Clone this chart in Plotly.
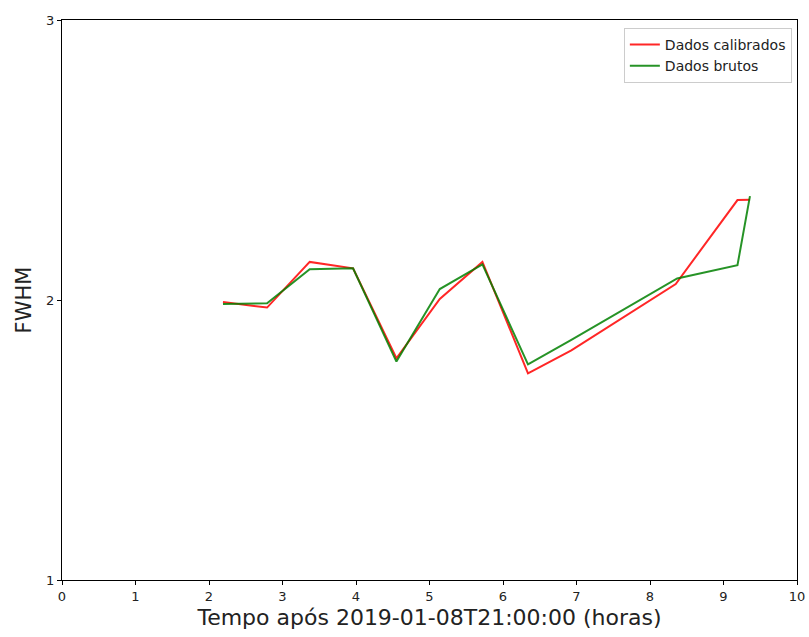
import plotly.graph_objects as go

# Time (hours after 2019-01-08T21:00:00)
t_cal = [2.19, 2.79, 3.37, 3.96, 4.55, 5.14, 5.72, 6.34, 6.93, 8.35, 9.19, 9.36]
fwhm_cal = [1.993, 1.973, 2.136, 2.113, 1.792, 2.004, 2.136, 1.738, 1.82, 2.057, 2.357, 2.358]

t_raw = [2.19, 2.79, 3.37, 3.96, 4.55, 5.14, 5.72, 6.34, 6.93, 8.37, 9.19, 9.36]
fwhm_raw = [1.986, 1.988, 2.11, 2.113, 1.78, 2.039, 2.127, 1.77, 1.858, 2.077, 2.124, 2.371]

x_ticks = list(range(0, 11))
y_ticks = [1, 2, 3]

fig = go.Figure()
fig.add_trace(go.Scatter(x=t_cal, y=fwhm_cal, mode="lines", name="Dados calibrados",
                         line=dict(color="rgba(255,0,0,0.85)", width=2)))
fig.add_trace(go.Scatter(x=t_raw, y=fwhm_raw, mode="lines", name="Dados brutos",
                         line=dict(color="rgba(0,128,0,0.85)", width=2)))

axis_common = dict(showline=True, linecolor="black", linewidth=1, mirror=True,
                   ticks="outside", ticklen=4, tickcolor="black", showgrid=False,
                   zeroline=False, automargin=False,
                   tickfont=dict(family="DejaVu Sans", size=13, color="#222"))

fig.update_xaxes(range=[0, 10], tickvals=x_ticks,
                 title=dict(text="Tempo após 2019-01-08T21:00:00 (horas)",
                            font=dict(family="DejaVu Sans", size=22, color="#222"), standoff=7),
                 **axis_common)
fig.update_yaxes(range=[1, 3], tickvals=y_ticks,
                 title=dict(text="FWHM", font=dict(family="DejaVu Sans", size=21, color="#222"), standoff=8),
                 **axis_common)

fig.update_layout(
    width=809, height=637,
    margin=dict(l=62, r=12, t=20, b=57),
    plot_bgcolor="white", paper_bgcolor="white",
    legend=dict(x=0.993, y=0.986, xanchor="right", yanchor="top",
                bgcolor="white", bordercolor="#cccccc", borderwidth=1,
                font=dict(family="DejaVu Sans", size=14, color="#222"),
                tracegroupgap=0),
    showlegend=True,
)

fig.write_html("out.html")
